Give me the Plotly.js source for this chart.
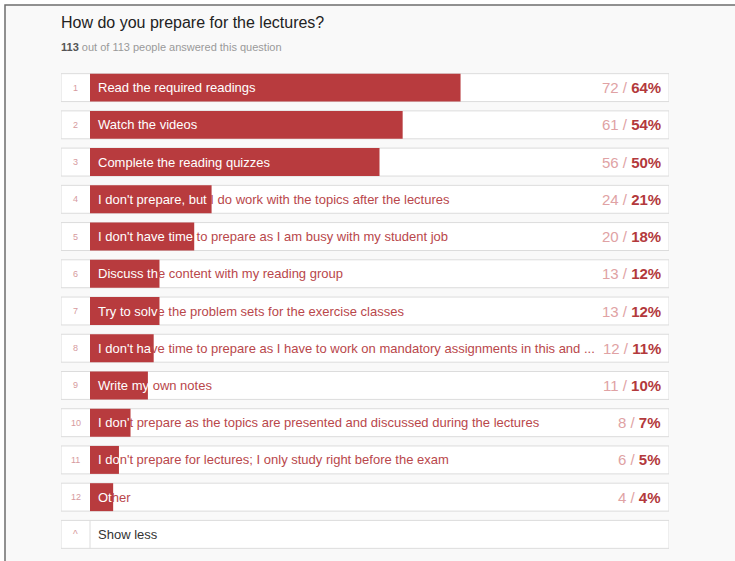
<!DOCTYPE html>
<html><head><meta charset="utf-8">
<script src="https://cdn.plot.ly/plotly-3.0.1.min.js"></script>
<style>html,body{margin:0;padding:0;background:#fff;overflow:hidden;} #chart{width:735px;height:561px;}</style>
</head><body><div id="chart"></div>
<script>
// ---- data ----
const titleText = "How do you prepare for the lectures?";
const answered = 113;
const total = 113;
const ranks = [1,2,3,4,5,6,7,8,9,10,11,12];
const labels = [
  "Read the required readings",
  "Watch the videos",
  "Complete the reading quizzes",
  "I don't prepare, but I do work with the topics after the lectures",
  "I don't have time to prepare as I am busy with my student job",
  "Discuss the content with my reading group",
  "Try to solve the problem sets for the exercise classes",
  "I don't have time to prepare as I have to work on mandatory assignments in this and ...",
  "Write my own notes",
  "I don't prepare as the topics are presented and discussed during the lectures",
  "I don't prepare for lectures; I only study right before the exam",
  "Other"
];
const counts = [72,61,56,24,20,13,13,12,11,8,6,4];
const pcts = [64,54,50,21,18,12,12,11,10,7,5,4];
const showLessLabel = "Show less";
const showLessRow = 13;

// ---- layout constants ----
const W = 735, H = 561;
const L = 61, R = 66, T = 69, B = 8;
const xMin = -29/579, xMax = 1;
const plotW = W - L - R, plotH = H - T - B;
const pxPerUnit = plotW / (xMax - xMin);
const RED = '#b83b3e';
const TXT_RED = '#b9474b';
const LIGHT = '#e0a2a4';
const NUM = '#d69a9e';
const FONT = 'Arial, "Liberation Sans", sans-serif';
const BARW = 0.75;

const ctx = document.createElement('canvas').getContext('2d');
ctx.font = '13px Arial, "Liberation Sans", sans-serif';
function splitLabel(s, p) {
  const avail = p / 100 * pxPerUnit - 8;
  let i = 0;
  for (; i < s.length; i++) {
    const w0 = ctx.measureText(s.slice(0, i)).width;
    const w1 = ctx.measureText(s.slice(0, i + 1)).width;
    if ((w0 + w1) / 2 > avail) break;
  }
  return [s.slice(0, i), s.slice(i)];
}
const nb = s => s.replace(/ /g, '\u00a0');

const annotations = [];
labels.forEach((lab, k) => {
  const [a, b] = splitLabel(lab, pcts[k]);
  let t = '';
  if (a) t += '<span style="color:#ffffff">' + nb(a) + '</span>';
  if (b) t += '<span style="color:' + TXT_RED + '">' + nb(b) + '</span>';
  annotations.push({xref:'x', yref:'y', x:0, y:ranks[k], xanchor:'left', yanchor:'middle',
    xshift:6, text:t, showarrow:false, font:{family:FONT, size:13}});
  annotations.push({xref:'x', yref:'y', x:xMax, y:ranks[k], xanchor:'right', yanchor:'middle',
    xshift:-6, showarrow:false, font:{family:FONT, size:15},
    text:'<span style="color:' + LIGHT + '">' + counts[k] + ' / </span><span style="color:#b3393c"><b>' + pcts[k] + '%</b></span>'});
  annotations.push({xref:'x', yref:'y', x:xMin/2, y:ranks[k], xanchor:'center', yanchor:'middle',
    showarrow:false, text:String(ranks[k]), font:{family:FONT, size:9, color:NUM}});
});
annotations.push({xref:'x', yref:'y', x:0, y:showLessRow, xanchor:'left', yanchor:'middle', xshift:6,
  showarrow:false, text:showLessLabel, font:{family:FONT, size:13, color:'#333'}});
annotations.push({xref:'x', yref:'y', x:xMin/2, y:showLessRow, xanchor:'center', yanchor:'middle',
  showarrow:false, text:'^', font:{family:FONT, size:10, color:NUM}});
annotations.push({xref:'paper', yref:'paper', x:0, y:1 + (T - 47)/plotH, xanchor:'left', yanchor:'middle',
  xshift:-2, showarrow:false, font:{family:FONT, size:11},
  text:'<span style="color:#555"><b>' + answered + '</b></span><span style="color:#999"> out of ' + total + ' people answered this question</span>'});

const boxRows = ranks.concat([showLessRow]);
const traces = [
  {type:'bar', orientation:'h', y:boxRows, x:boxRows.map(() => xMax - xMin), base:xMin,
   width:BARW, marker:{color:'#ffffff', line:{color:'#dcdcdc', width:1}}, hoverinfo:'skip'},
  {type:'bar', orientation:'h', y:ranks, x:pcts.map(p => p/100), base:0,
   width:BARW, marker:{color:RED, line:{width:0}}, hoverinfo:'skip'}
];

const layout = {
  width:W, height:H, margin:{l:L, r:R, t:T, b:B, pad:0},
  paper_bgcolor:'#ffffff', plot_bgcolor:'rgba(0,0,0,0)',
  barmode:'overlay', showlegend:false, hovermode:false,
  title:{text:titleText, x:0, xref:'paper', xanchor:'left', y:1 - 22/H, yref:'container', yanchor:'middle',
    font:{family:FONT, size:16, color:'#222'}},
  xaxis:{range:[xMin, xMax], visible:false, fixedrange:true},
  yaxis:{range:[showLessRow + 0.5, 0.5], visible:false, fixedrange:true},
  shapes:[
    {type:'rect', layer:'below', xref:'paper', yref:'paper',
     x0:(5 - L)/plotW, x1:(W + 10 - L)/plotW, y0:-(B + 10)/plotH, y1:1 + (T - 5)/plotH,
     fillcolor:'#f9f9f9', line:{color:'#6e6e6e', width:1.5}},
    {type:'line', layer:'above', xref:'x', yref:'y', x0:0, x1:0,
     y0:showLessRow - BARW/2, y1:showLessRow + BARW/2, line:{color:'#dcdcdc', width:1}}
  ],
  annotations:annotations
};
Plotly.newPlot('chart', traces, layout, {staticPlot:true, displayModeBar:false});
</script></body></html>
